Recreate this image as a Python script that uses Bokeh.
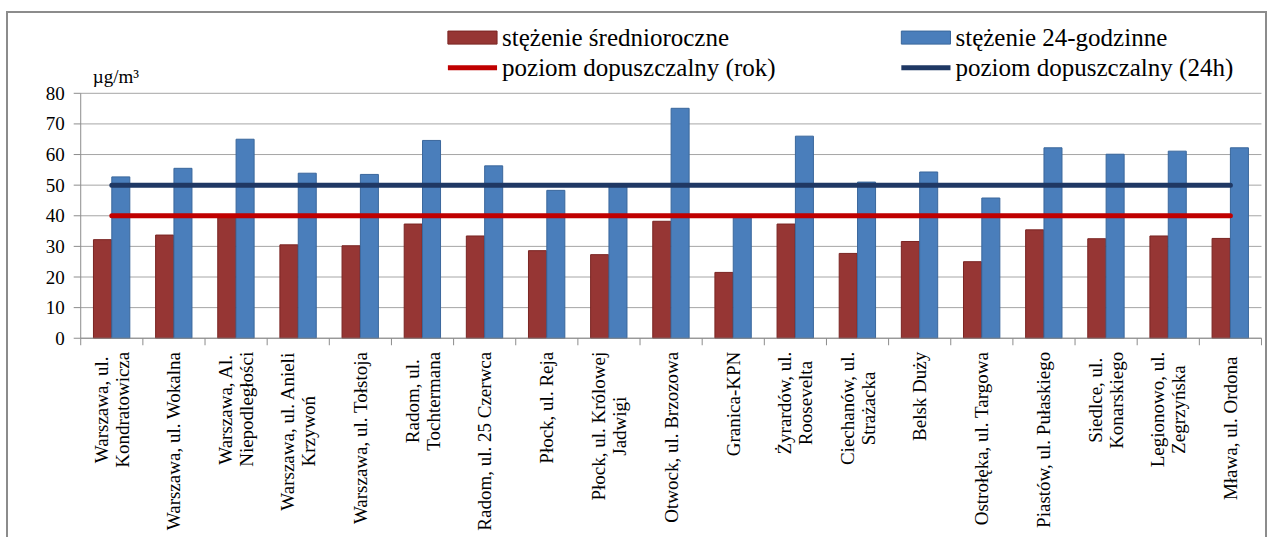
import math
from bokeh.plotting import figure
from bokeh.models import Range1d, ColumnDataSource
from bokeh.core.properties import value
from bokeh.transform import dodge
from bokeh.embed import file_html
from bokeh.resources import INLINE

categories = [
    "Warszawa, ul.\nKondratowicza",
    "Warszawa, ul. Wokalna",
    "Warszawa, Al.\nNiepodległości",
    "Warszawa, ul. Anieli\nKrzywoń",
    "Warszawa, ul. Tołstoja",
    "Radom, ul.\nTochtermana",
    "Radom, ul. 25 Czerwca",
    "Płock, ul. Reja",
    "Płock, ul. Królowej\nJadwigi",
    "Otwock, ul. Brzozowa",
    "Granica-KPN",
    "Żyrardów, ul.\nRoosevelta",
    "Ciechanów, ul.\nStrażacka",
    "Belsk Duży",
    "Ostrołęka, ul. Targowa",
    "Piastów, ul. Pułaskiego",
    "Siedlce, ul.\nKonarskiego",
    "Legionowo, ul.\nZegrzyńska",
    "Mława,  ul. Ordona",
]
stezenie_srednioroczne = [32.2, 33.7, 39.8, 30.5, 30.2, 37.3, 33.4, 28.6, 27.3, 38.2,
                          21.5, 37.3, 27.7, 31.6, 25.0, 35.4, 32.5, 33.4, 32.6]
stezenie_24h = [52.7, 55.5, 65.0, 53.9, 53.5, 64.6, 56.3, 48.3, 49.7, 75.1,
                39.5, 66.0, 51.0, 54.3, 45.8, 62.2, 60.1, 61.1, 62.2]
poziom_rok = [40, 40, 40, 40, 40, 40, 40, 40, 40, 40, 40, 40, 40, 40, 40, 40, 40, 40, 40]
poziom_24h = [50, 50, 50, 50, 50, 50, 50, 50, 50, 50, 50, 50, 50, 50, 50, 50, 50, 50, 50]
y_ticks = [0, 10, 20, 30, 40, 50, 60, 70, 80]
y_tick_labels = ["0", "10", "20", "30", "40", "50", "60", "70", "80"]
unit_label = "µg/m³"
legend_labels = ["stężenie średnioroczne", "stężenie 24-godzinne",
                 "poziom dopuszczalny (rok)", "poziom dopuszczalny (24h)"]

FONT = value("Liberation Serif")
RED_BAR, RED_BAR_EDGE = "#963634", "#7a2422"
BLUE_BAR, BLUE_BAR_EDGE = "#4a7ebb", "#3a679c"
RED_LINE, NAVY_LINE = "#c00000", "#1f3864"
AXIS_C, GRID_C = "#8c8c8c", "#a6a6a6"
TINY = 1e-4   # near-zero angle: same text path as the rotated category labels

n = len(categories)
x_pos = [i + 0.5 for i in range(n)]
src = ColumnDataSource(dict(x=x_pos, sr=stezenie_srednioroczne, d24=stezenie_24h,
                            lr=poziom_rok, l24=poziom_24h, cat=categories))

# ---- layout in page pixels -------------------------------------------------
CANVAS_L, CANVAS_T, CANVAS_W, CANVAS_H = 8, 13, 1257, 524
PLOT_L, PLOT_R = 80, 1257            # x of category 0 .. n
Y80_PX, Y0_PX = 92.5, 336.5          # y of the 80 and 0 lines
PPX = (PLOT_R - PLOT_L) / n
PPU = (Y0_PX - Y80_PX) / y_ticks[-1]


def px_x(px):
    return (px - PLOT_L) / PPX


def px_y(py):
    return (Y0_PX - py) / PPU


p = figure(width=CANVAS_W + 4, height=CANVAS_H + 2,
           x_range=Range1d(px_x(CANVAS_L), px_x(CANVAS_L + CANVAS_W)),
           y_range=Range1d(px_y(CANVAS_T + CANVAS_H), px_y(CANVAS_T)),
           x_axis_location=None, y_axis_location=None,
           output_backend="svg", toolbar_location=None,
           min_border_left=0, min_border_right=0, min_border_top=0, min_border_bottom=0)
p.styles = {"border-top": "2px solid #8c8c8c", "border-left": "2px solid #8c8c8c",
            "border-right": "2px solid #8c8c8c", "margin-top": "11px", "margin-left": "6px"}
p.outline_line_color = None
p.background_fill_color = "white"
p.border_fill_color = "white"
p.grid.visible = False

# ---- value axis: grid lines, ticks, labels --------------------------------
tick_w = 7 / PPX
k = len(y_ticks)
p.segment(x0=[0] * k, y0=y_ticks, x1=[n] * k, y1=y_ticks, line_color=GRID_C, line_width=1)
p.segment(x0=[-tick_w] * k, y0=y_ticks, x1=[0] * k, y1=y_ticks, line_color=AXIS_C, line_width=1)
p.text(x=[-(7 + 9) / PPX] * k, y=y_ticks, text=y_tick_labels, angle=TINY,
       anchor=value("center_right"), text_align="right", text_baseline="middle",
       text_font=FONT, text_font_size="19px", text_color="black", text_line_height=1.0)
p.text(x=[px_x(92)], y=[px_y(86)], text=[unit_label], angle=TINY,
       anchor=value("bottom_left"), text_align="left", text_baseline="middle",
       text_font=FONT, text_font_size="19px", text_color="black", text_line_height=1.0)

# ---- bars -------------------------------------------------------------------
p.vbar(x=dodge("x", -0.15, range=p.x_range), top="sr", width=0.29, source=src,
       fill_color=RED_BAR, line_color=RED_BAR_EDGE, line_width=1)
p.vbar(x=dodge("x", 0.145, range=p.x_range), top="d24", width=0.29, source=src,
       fill_color=BLUE_BAR, line_color=BLUE_BAR_EDGE, line_width=1)

# ---- limit lines --------------------------------------------------------------
p.line(x="x", y="lr", source=src, line_color=RED_LINE, line_width=5, line_cap="round")
p.line(x="x", y="l24", source=src, line_color=NAVY_LINE, line_width=5, line_cap="round")

# ---- axis lines on top ---------------------------------------------------------
p.segment(x0=[0], y0=[y_ticks[0]], x1=[0], y1=[y_ticks[-1]], line_color=AXIS_C, line_width=1)
p.segment(x0=[0], y0=[0], x1=[n], y1=[0], line_color=AXIS_C, line_width=1)
bounds_x = list(range(n + 1))
tick_h = 7 / PPU
p.segment(x0=bounds_x, y0=[0] * (n + 1), x1=bounds_x, y1=[-tick_h] * (n + 1),
          line_color=AXIS_C, line_width=1)

# ---- category labels (rotated, centred lines) ------------------------------------
p.text(x="x", y=px_y(350), text="cat", source=src, angle=math.pi / 2,
       anchor=value("center_right"), text_align="center", text_baseline="middle",
       text_font=FONT, text_font_size="19px", text_color="black", text_line_height=1.0)

# ---- legend (two columns) --------------------------------------------------------
col_x = [446, 898]
row_y = [37, 67]
sw_w = 49
p.rect(x=[px_x(c + sw_w / 2) for c in col_x], y=[px_y(row_y[0])] * 2,
       width=sw_w / PPX, height=13 / PPU,
       fill_color=[RED_BAR, BLUE_BAR], line_color=[RED_BAR_EDGE, BLUE_BAR_EDGE])
p.segment(x0=[px_x(c) for c in col_x], y0=[px_y(row_y[1])] * 2,
          x1=[px_x(c + sw_w) for c in col_x], y1=[px_y(row_y[1])] * 2,
          line_color=[RED_LINE, NAVY_LINE], line_width=5)
p.text(x=[px_x(c + sw_w + 5) for c in col_x for _ in row_y],
       y=[px_y(r) for _ in col_x for r in row_y],
       text=[legend_labels[0], legend_labels[2], legend_labels[1], legend_labels[3]],
       angle=TINY, anchor=value("center_left"), text_align="left", text_baseline="middle",
       text_font=FONT, text_font_size="25px", text_color="black", text_line_height=1.0)

open("out.html", "w").write(file_html(p, INLINE))
